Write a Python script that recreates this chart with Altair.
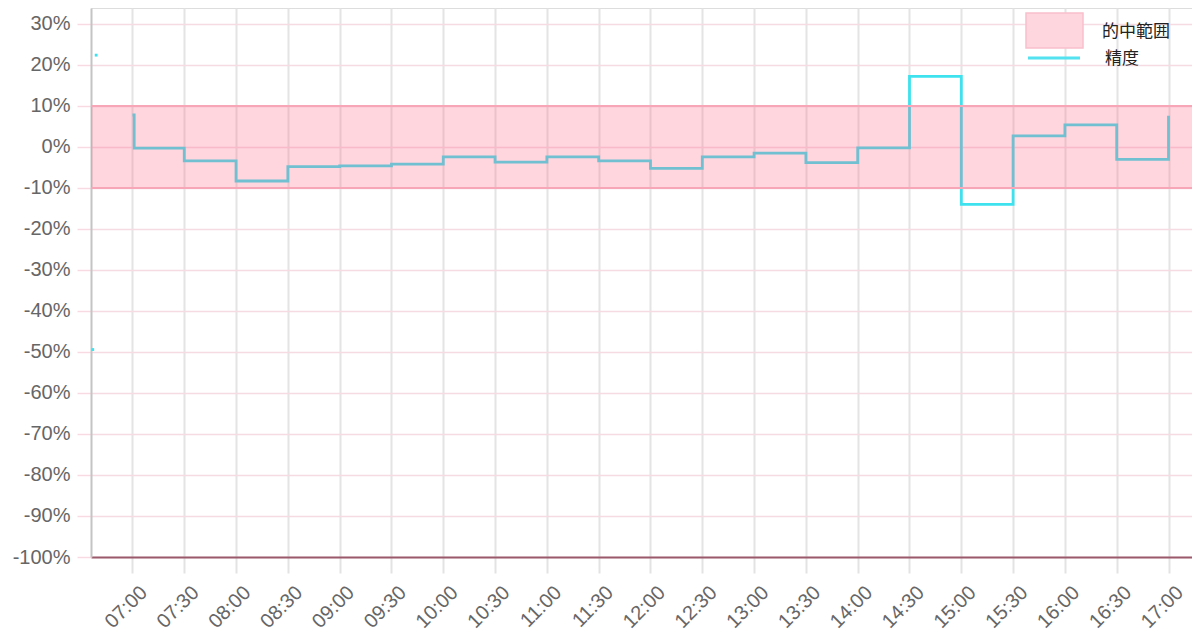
import altair as alt
import pandas as pd

# ---- data ----
step_times = ["07:00", "07:01", "07:30", "08:00", "08:30", "09:00", "09:30", "10:00",
              "10:30", "11:00", "11:30", "12:00", "12:30", "13:00", "13:30", "14:00",
              "14:30", "15:00", "15:30", "16:00", "16:30", "17:00"]
step_values = [7.8, -0.3, -3.4, -8.3, -4.8, -4.6, -4.2, -2.4,
               -3.7, -2.4, -3.4, -5.2, -2.4, -1.5, -3.8, -0.2,
               17.2, -14.0, 2.7, 5.4, -3.0, 7.6]
outlier_times = ["06:39", "06:37"]
outlier_values = [22.4, -49.4]
band_low = -10
band_high = 10
y_ticks = list(range(-100, 31, 10))
x_tick_labels = ["07:00", "07:30", "08:00", "08:30", "09:00", "09:30", "10:00", "10:30",
                 "11:00", "11:30", "12:00", "12:30", "13:00", "13:30", "14:00", "14:30",
                 "15:00", "15:30", "16:00", "16:30", "17:00"]
legend_labels = ["的中範囲", "精度"]
x_domain = [396.0, 1033.6]
y_domain = [-100, 33.9]


def to_min(s):
    h, m = s.split(":")
    return int(h) * 60 + int(m)


line_df = pd.DataFrame({"t": [to_min(s) for s in step_times], "v": step_values})
pts_df = pd.DataFrame({"t": [to_min(s) for s in outlier_times], "v": outlier_values})
band_df = pd.DataFrame({"x": [x_domain[0]], "x2": [x_domain[1]], "lo": [band_low], "hi": [band_high]})
edge_df = pd.DataFrame({"v": [band_low, band_high]})
x_vals = [to_min(s) for s in x_tick_labels]

W, H = 1101, 549
LINE = "#3de2ee"
PINK = "#ff6384"

label_expr = ("pad(toString(floor(datum.value/60)), 2, '0', 'left') + ':' + "
              "pad(toString(datum.value % 60), 2, '0', 'left')")

x_scale = alt.Scale(domain=x_domain, nice=False, zero=False)
y_scale = alt.Scale(domain=y_domain, nice=False, zero=False)

x_enc = alt.X("t:Q", scale=x_scale,
              axis=alt.Axis(values=x_vals, labelExpr=label_expr, title=None,
                            labelAngle=-45, labelAlign="right", labelBaseline="top",
                            labelFontSize=20, labelColor="#666666", labelFont="Liberation Sans",
                            labelPadding=9, labelOffset=4,
                            tickSize=16, tickColor="#e3e3e3", tickWidth=2,
                            grid=True, gridColor="#e4e4e4", gridWidth=2,
                            domainColor="#9b5a6c", domainWidth=2))
y_enc = alt.Y("v:Q", scale=y_scale,
              axis=alt.Axis(values=y_ticks, labelExpr="datum.value + '%'", title=None,
                            labelFontSize=20, labelColor="#666666", labelFont="Liberation Sans",
                            labelPadding=7, tickSize=14, tickColor="#f8dbe2", tickWidth=1.5,
                            grid=True, gridColor="#f6dbe3", gridWidth=1.5,
                            domainColor="#c4c4c4", domainWidth=2))

line = alt.Chart(line_df).mark_line(interpolate="step-after", color=LINE, strokeWidth=2.8).encode(
    x=x_enc, y=y_enc)

pts = alt.Chart(pts_df).mark_square(color=LINE, size=8, opacity=1).encode(
    x=alt.X("t:Q", scale=x_scale), y=alt.Y("v:Q", scale=y_scale))

band = alt.Chart(band_df).mark_rect(color=PINK, opacity=0.27).encode(
    x=alt.X("x:Q", scale=x_scale), x2="x2:Q",
    y=alt.Y("lo:Q", scale=y_scale), y2="hi:Q")

edges = alt.Chart(edge_df).mark_rule(color="#f7a6b8", strokeWidth=2).encode(
    y=alt.Y("v:Q", scale=y_scale))

leg_df = pd.DataFrame({"label": legend_labels})
leg_rect = alt.Chart(leg_df.iloc[[0]]).mark_rect(fill="#fdd6de", stroke="#f9c0cc", strokeWidth=1.5).encode(
    x=alt.value(935), x2=alt.value(992), y=alt.value(5), y2=alt.value(40))
leg_line = alt.Chart(leg_df.iloc[[1]]).mark_rule(color="#52e2f0", strokeWidth=3).encode(
    x=alt.value(937), x2=alt.value(989), y=alt.value(50))
leg_t1 = alt.Chart(leg_df.iloc[[0]]).mark_text(
    align="left", baseline="middle", fontSize=17, font="Noto Sans CJK JP", color="#222222").encode(
    x=alt.value(1011), y=alt.value(24), text="label:N")
leg_t2 = alt.Chart(leg_df.iloc[[1]]).mark_text(
    align="left", baseline="middle", fontSize=17, font="Noto Sans CJK JP", color="#222222").encode(
    x=alt.value(1014), y=alt.value(51), text="label:N")

chart = alt.layer(line, pts, band, edges, leg_rect, leg_line, leg_t1, leg_t2).properties(
    width=W, height=H,
    autosize=alt.AutoSizeParams(type="none"),
    padding={"left": 83, "top": 0, "right": 0, "bottom": 80},
).configure_view(stroke=None).configure(background="white")

chart.save("out.html", embed_options={"renderer": "svg", "actions": False})
